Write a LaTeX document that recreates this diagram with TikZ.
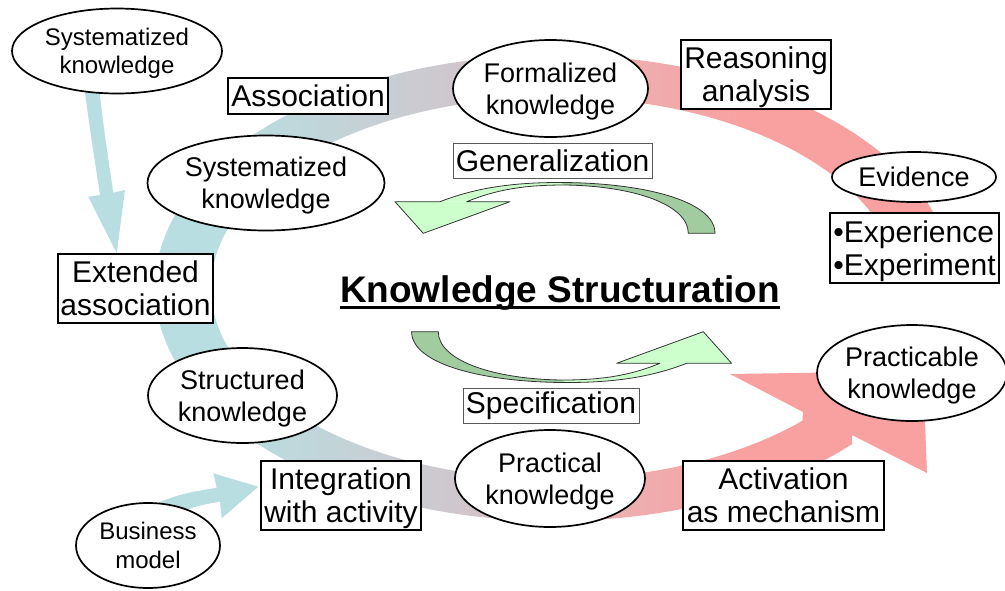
\documentclass[tikz,border=0pt]{standalone}
\usepackage{fontspec}
\setmainfont{Liberation Sans}
\usetikzlibrary{shapes.geometric,calc}
\definecolor{tealA}{RGB}{184,222,225}
\definecolor{greyA}{RGB}{206,200,206}
\definecolor{pinkB}{RGB}{236,176,178}
\definecolor{pinkA}{RGB}{249,160,160}
\definecolor{lgreen}{RGB}{204,255,204}
\definecolor{dgreen}{RGB}{160,204,160}
\pgfdeclarehorizontalshading{ringshade}{100bp}{color(0bp)=(tealA); color(32bp)=(tealA); color(45bp)=(greyA); color(55bp)=(pinkB); color(63bp)=(pinkA); color(100bp)=(pinkA)}
\tikzset{
 ell/.style={draw=black, line width=1.7pt, fill=white, ellipse, inner sep=0pt, align=center, text depth=0pt},
 box/.style={draw=black, line width=1.7pt, fill=white, rectangle, inner sep=0pt, align=center, text depth=0pt},
 thinbox/.style={draw=black!65, line width=0.9pt, fill=white, rectangle, inner sep=0pt, align=center},
 fA/.style={font=\fontsize{24}{28.5}\selectfont},
 fB/.style={font=\fontsize{27}{32}\selectfont},
 fC/.style={font=\fontsize{30}{33}\selectfont},
 gline/.style={draw=black!80, line width=0.8pt, line join=round}
}
\begin{document}
\begin{tikzpicture}[x=1pt,y=-1pt]
\useasboundingbox (0,0) rectangle (1005,590);
\coordinate (C) at (555,288);
% big ring arrow
\shade[shading=ringshade] ($(C)+(-12:400 and 233)$) arc[start angle=-12, end angle=-318, x radius=400, y radius=233]
  -- (852,435) -- (927,473) -- (923,371) -- (730,374) -- (803,412)
  -- ($(C)+(-316:344 and 191)$) arc[start angle=-316, end angle=-12, x radius=344, y radius=191] -- cycle;
% teal side arrows
\fill[tealA] (82,70) .. controls (90,130) .. (100,195) -- (88.3,196.7) -- (116.7,253.3) -- (125,190) -- (113.3,192.7) .. controls (104,130) .. (97,70) -- cycle;
\fill[tealA] (150,506) .. controls (180,494) .. (216.7,487.7) -- (213.3,473.3) -- (258.3,486.7) -- (221.7,518.3) -- (220,501.7) .. controls (195,506) .. (165,520) -- cycle;
% green curved arrows
\foreach \r in {0,180}{
\begin{scope}[rotate around={\r:(563.3,282.5)}]
\fill[lgreen] (440,201.7) .. controls (480,186) and (520,182.5) .. (560,182.5) -- (565,185) .. controls (530,185) and (500,188) .. (466.7,201.7) -- cycle;
\fill[lgreen] (395,201.7) -- (423.3,233.3) -- (510,201.7) -- cycle;
\fill[dgreen] (560,182.5) .. controls (640,182.5) and (715,200) .. (715,233.3) -- (688.3,233.3) .. controls (688.3,205) and (635,186) .. (565,185) -- cycle;
\draw[gline] (715,233.3) .. controls (715,200) and (640,182.5) .. (560,182.5) .. controls (520,182.5) and (480,186) .. (440,201.7) -- (395,201.7) -- (423.3,233.3) -- (510,201.7) -- (466.7,201.7) .. controls (500,188) and (530,185) .. (565,185) .. controls (635,186) and (688.3,205) .. (688.3,233.3) -- cycle;
\end{scope}}
% nodes
\node[ell,fA,minimum width=210,minimum height=85] (sysTop) at (117,51) {Systematized\\knowledge};
\node[box,fC,minimum width=160,minimum height=36] (assoc) at (308,96) {Association};
\node[ell,fB,minimum width=237,minimum height=95] (sysMid) at (266,183) {Systematized\\knowledge};
\node[box,fC,minimum width=155,minimum height=69] (ext) at (135.5,288.5) {Extended\\association};
\node[ell,fB,minimum width=189,minimum height=95] (struct) at (242.5,395.5) {Structured\\knowledge};
\node[ell,fA,minimum width=144,minimum height=85] (bus) at (148,545.5) {Business\\model};
\node[box,fC,minimum width=160,minimum height=69] (integ) at (341,495.5) {Integration\\with activity};
\node[ell,fB,minimum width=195,minimum height=97] (formal) at (550.5,88.5) {Formalized\\knowledge};
\node[thinbox,fC,minimum width=199,minimum height=35] (gen) at (552.5,160.5) {Generalization};
\node[box,fC,minimum width=150,minimum height=69] (reason) at (756,74.5) {Reasoning\\analysis};
\node[ell,fB,minimum width=164,minimum height=50] (evid) at (914,177) {Evidence};
\node[box,fC,minimum width=169,minimum height=70,align=left] (exper) at (914.5,248) {•Experience\\•Experiment};
\node[thinbox,fC,minimum width=176,minimum height=35] (spec) at (551,405.5) {Specification};
\node[ell,fB,minimum width=190,minimum height=97] (pract) at (550,478.5) {Practical\\knowledge};
\node[box,fC,minimum width=201,minimum height=69] (activ) at (783.5,495.5) {Activation\\as mechanism};
\node[ell,fB,minimum width=190,minimum height=96] (practi) at (912,373) {Practicable\\knowledge};
% title
\node[anchor=base,inner sep=0pt,font=\fontsize{37}{44}\selectfont\bfseries] (title) at (560,302.5) {Knowledge Structuration};
\draw[line width=2.5pt] ([yshift=-5pt]title.base west) -- ([yshift=-5pt]title.base east);
\end{tikzpicture}
\end{document}
